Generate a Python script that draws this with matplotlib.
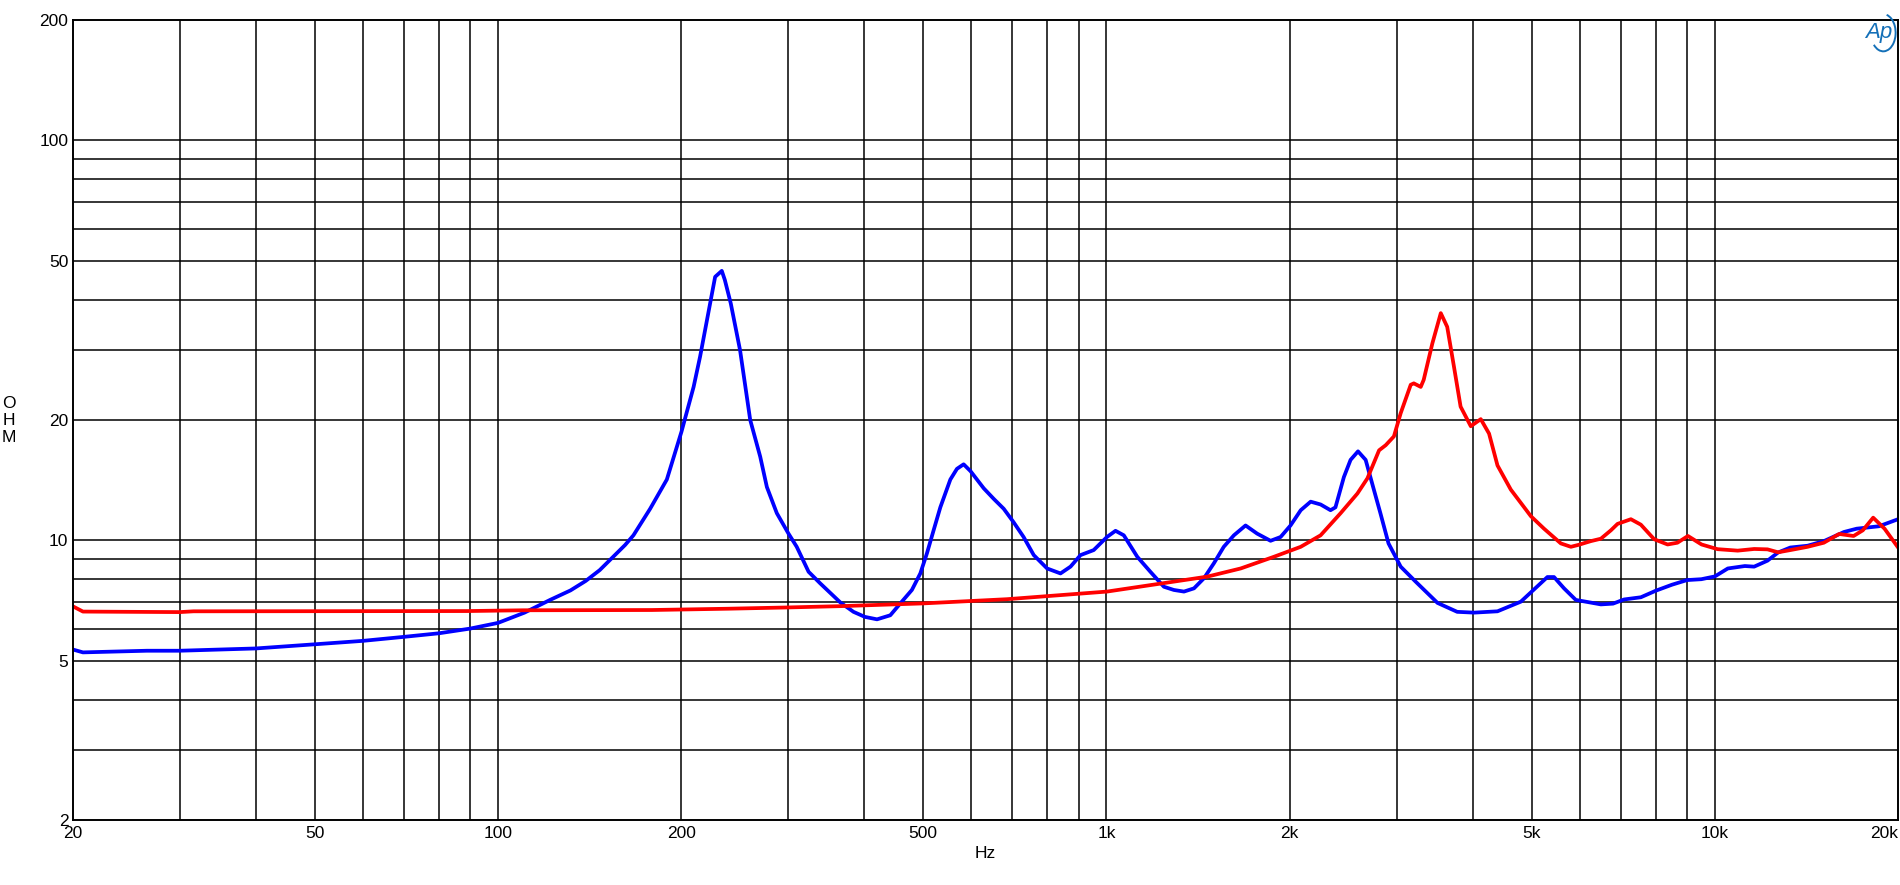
import numpy as np
import matplotlib
matplotlib.use('Agg')
import matplotlib.pyplot as plt
from matplotlib.patches import Arc

#%% data (Hz, Ohm)
blue_f = [20, 20.8, 26.5, 30, 40, 50, 60, 70, 80, 90, 100, 110.6, 121.8, 131.6, 139.4,
          147, 161.8, 167, 177.9, 189.5, 200.3, 209.7, 214.9, 223.2, 227.5, 233.3, 236,
          241.4, 250, 259.8, 269.8, 276.7, 287.3, 300.3, 309.8, 324, 338.6, 365.3, 384,
          401, 419.8, 441.4, 458.5, 479, 494.5, 507, 520, 533.4, 554, 568, 582.6, 598,
          628.6, 653, 678, 704, 731, 759.6, 799, 840.5, 873, 906.6, 953, 1002, 1035,
          1068, 1124, 1181, 1243, 1290.6, 1341, 1393, 1446, 1502, 1559, 1620, 1693,
          1769, 1861, 1933, 2007, 2086, 2166, 2249, 2335, 2379, 2456, 2519, 2591, 2667,
          2751, 2820, 2908, 3045, 3222, 3500, 3771, 4020, 4392, 4798, 5305, 5440, 5650,
          5908, 6130, 6495, 6800, 7093, 7556, 8000, 8500, 9000, 9500, 10000, 10500,
          11200, 11600, 12200, 12700, 13300, 14200, 15100, 16300, 17100, 18600, 20000]
blue_z = [5.34, 5.25, 5.3, 5.3, 5.37, 5.5, 5.61, 5.74, 5.86, 6.02, 6.22, 6.6, 7.1, 7.5, 7.92,
          8.43, 9.74, 10.3, 12.0, 14.2, 18.7, 24.2, 28.8, 39.1, 45.6, 47.2, 44.8,
          39.1, 29.9, 20.0, 16.2, 13.6, 11.7, 10.4, 9.64, 8.35, 7.81, 7.0, 6.63,
          6.44, 6.35, 6.5, 6.96, 7.52, 8.27, 9.28, 10.6, 12.1, 14.2, 15.1, 15.5, 14.9,
          13.5, 12.7, 12.0, 11.1, 10.2, 9.19, 8.51, 8.27, 8.6, 9.19, 9.46, 10.2, 10.57,
          10.3, 9.1, 8.35, 7.66, 7.52, 7.45, 7.59, 8.04, 8.77, 9.64, 10.3, 10.9,
          10.4, 9.98, 10.2, 10.9, 11.9, 12.5, 12.3, 11.9, 12.1, 14.4, 15.9, 16.7, 15.9,
          13.4, 11.7, 9.83, 8.6, 7.89, 6.98, 6.63, 6.6, 6.65, 7.03, 8.1, 8.1, 7.59,
          7.1, 7.03, 6.92, 6.95, 7.12, 7.21, 7.49, 7.75, 7.96, 8.0, 8.13, 8.51,
          8.63, 8.6, 8.9, 9.33, 9.6, 9.7, 9.96, 10.5, 10.7, 10.85, 11.3]

red_f = [20, 20.8, 30, 31.6, 89, 110, 179, 239, 300, 365, 500, 686, 1002, 1291, 1465,
         1662, 1884, 2086, 2249, 2426, 2585, 2685, 2806, 2877, 2968, 3045, 3163, 3200,
         3285, 3322, 3433, 3544, 3631, 3725, 3820, 3970, 4123, 4254, 4392, 4619, 4983,
         5238, 5582, 5798, 5970, 6252, 6495, 6746, 6918, 7276, 7556, 7946, 8360, 8677,
         9030, 9507, 10100, 10900, 11600, 12200, 12700, 13300, 14200, 15100, 16000,
         16900, 17500, 18200, 19000, 20000]
red_z = [6.85, 6.64, 6.62, 6.65, 6.66, 6.69, 6.7, 6.75, 6.8, 6.85, 6.96, 7.13, 7.45, 7.89, 8.12,
         8.51, 9.1, 9.64, 10.3, 11.7, 13.1, 14.3, 16.8, 17.3, 18.2, 20.8, 24.5, 24.7,
         24.2, 25.2, 31.1, 37.0, 34.2, 27.2, 21.6, 19.3, 20.1, 18.5, 15.4, 13.4, 11.5,
         10.7, 9.83, 9.64, 9.75, 9.96, 10.1, 10.6, 11.0, 11.3, 10.95, 10.07, 9.77, 9.87,
         10.26, 9.77, 9.51, 9.43, 9.52, 9.5, 9.34, 9.46, 9.64, 9.87, 10.38,
         10.26, 10.6, 11.4, 10.7, 9.6]

x_ticks = [20, 50, 100, 200, 500, 1000, 2000, 5000, 10000, 20000]
x_labels = ['20', '50', '100', '200', '500', '1k', '2k', '5k', '10k', '20k']
y_ticks = [2, 5, 10, 20, 50, 100, 200]
y_labels = ['2', '5', '10', '20', '50', '100', '200']

#%% plot
plt.rcParams['font.family'] = ['Liberation Sans', 'DejaVu Sans']
fig = plt.figure(figsize=(19, 8.85), dpi=100)
ax = fig.add_axes([0.0382, 0.0734, 0.9608, 0.904])

ax.plot(blue_f, blue_z, color='#0000ff', lw=2.7, solid_joinstyle='round')
ax.plot(red_f, red_z, color='#ff0000', lw=2.7, solid_joinstyle='round')

ax.set_xscale('log')
ax.set_yscale('log')
ax.set_xlim(20, 20000)
ax.set_ylim(2, 200)

# grid on every 1-2-3...9 line, black
xg = [m * 10**e for e in range(1, 5) for m in range(1, 10)]
yg = [m * 10**e for e in range(0, 3) for m in range(1, 10)]
for v in xg:
    if 20 < v < 20000:
        ax.axvline(v, color='black', lw=1.1, zorder=0)
for v in yg:
    if 2 < v < 200:
        ax.axhline(v, color='black', lw=1.1, zorder=0)

ax.set_xticks(x_ticks)
ax.set_xticklabels(x_labels)
ax.set_yticks(y_ticks)
ax.set_yticklabels(y_labels)
ax.xaxis.set_minor_locator(matplotlib.ticker.NullLocator())
ax.yaxis.set_minor_locator(matplotlib.ticker.NullLocator())
ax.tick_params(axis='both', length=0, labelsize=12.5, colors='black')
ax.tick_params(axis='x', pad=4)
ax.tick_params(axis='y', pad=3)
ax.get_xticklabels()[-1].set_ha('right')
for s in ax.spines.values():
    s.set_linewidth(1.4)
    s.set_color('black')

ax.set_xlabel('Hz', fontsize=12.5, labelpad=4)
fig.text(0.0048, 0.525, 'O\nH\nM', fontsize=12.5, ha='center', va='center', linespacing=1.15)

# AP logo
fig.text(0.9886, 0.963, 'Ap', fontsize=16, style='italic', color='#1470b8',
         ha='center', va='center')
logo = Arc((0.9912, 0.963), 0.013, 0.042, theta1=-110, theta2=85,
           transform=fig.transFigure, color='#1470b8', lw=1.4)
fig.add_artist(logo)

plt.savefig('out.png', dpi=100)
